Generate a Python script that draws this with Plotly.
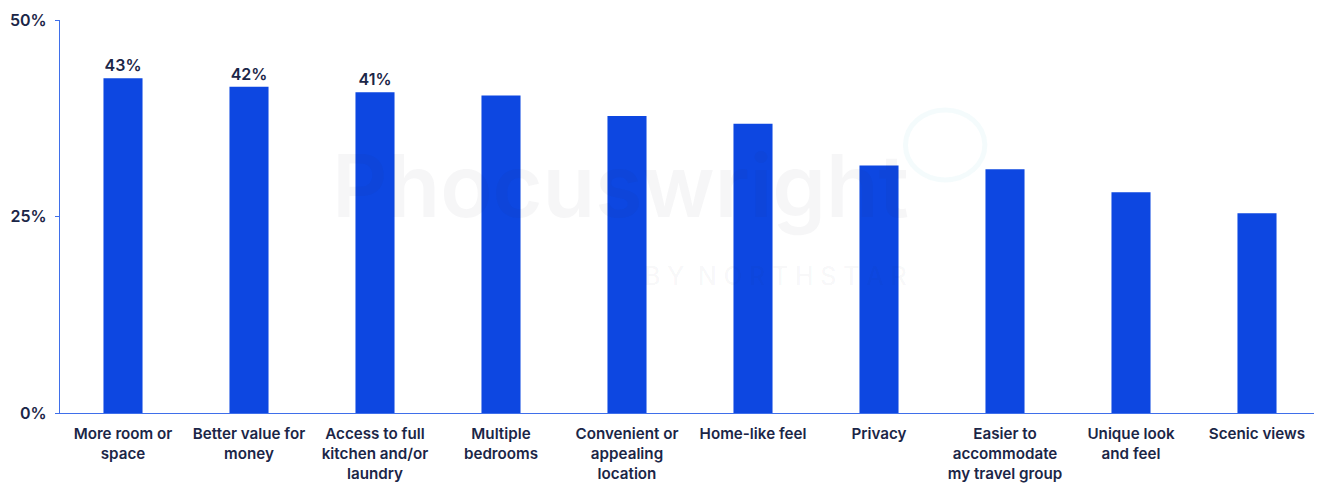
import plotly.graph_objects as go

categories = [
    "More room or<br>space",
    "Better value for<br>money",
    "Access to full<br>kitchen and/or<br>laundry",
    "Multiple<br>bedrooms",
    "Convenient or<br>appealing<br>location",
    "Home-like feel",
    "Privacy",
    "Easier to<br>accommodate<br>my travel group",
    "Unique look<br>and feel",
    "Scenic views",
]
values = [42.6, 41.5, 40.8, 40.4, 37.8, 36.8, 31.5, 31.0, 28.1, 25.4]
labels = ["43%", "42%", "41%", "", "", "", "", "", "", ""]
y_ticks = [0, 25, 50]
y_tick_text = ["0%", "25%", "50%"]

navy = "#1B2647"
blue = "#0D47E1"
axis_blue = "#3F6FEA"

fig = go.Figure()
fig.add_trace(go.Bar(
    x=categories, y=values,
    marker=dict(color=blue, line=dict(width=0)),
    text=labels, textposition="outside", cliponaxis=False,
    textfont=dict(family="Inter", size=16, color=navy, weight=600),
    hoverinfo="skip",
))

# faint watermark
fig.add_annotation(text="Phocuswright", xref="paper", yref="paper", x=0.445, y=0.577,
                   showarrow=False, font=dict(family="Inter", size=86, color="rgba(40,55,80,0.045)", weight=600))
fig.add_annotation(text="B Y  N O R T H S T A R", xref="paper", yref="paper", x=0.568, y=0.348,
                   showarrow=False, font=dict(family="Inter", size=25, color="rgba(40,55,80,0.045)", weight=500))
fig.add_shape(type="circle", xref="paper", yref="paper", x0=0.671, x1=0.734, y0=0.593, y1=0.771,
              line=dict(color="rgba(170,225,232,0.13)", width=5), layer="below")

fig.update_layout(
    width=1314, height=477,
    margin=dict(l=52, r=2, t=12, b=72, autoexpand=False),
    paper_bgcolor="white", plot_bgcolor="white",
    bargap=0.69, showlegend=False,
    font=dict(family="Inter", color=navy),
)
fig.update_yaxes(
    range=[0, 50], tickvals=y_ticks, ticktext=y_tick_text, automargin=False,
    showgrid=False, zeroline=False, showline=True, linecolor=axis_blue, linewidth=1.2,
    ticks="outside", ticklen=4, tickcolor=axis_blue, ticklabelstandoff=5,
    tickfont=dict(family="Inter", size=16, color=navy, weight=600),
)
fig.update_xaxes(
    showgrid=False, showline=True, linecolor=axis_blue, linewidth=1.2, ticks="", automargin=False,
    ticklabelstandoff=7,
    tickfont=dict(family="Inter", size=15.2, color=navy, weight=600),
    tickangle=0,
)

fig.write_html("out.html")
